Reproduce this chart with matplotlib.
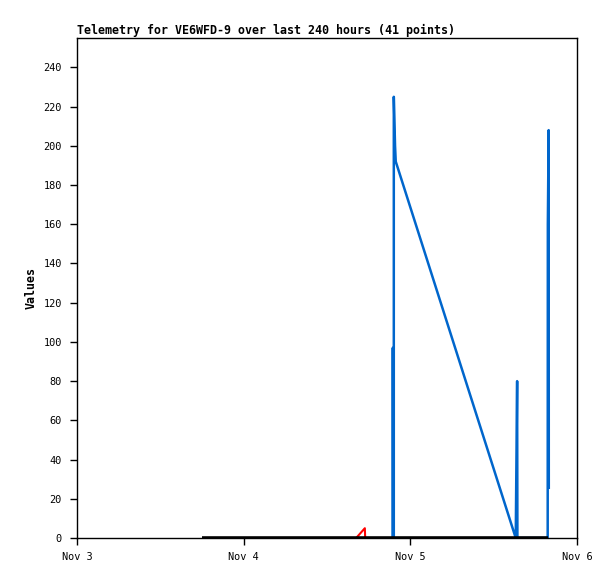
import datetime as dt
import matplotlib
matplotlib.use("Agg")
import matplotlib.pyplot as plt
import matplotlib.dates as mdates

# hours after Nov 3 00:00
start = dt.datetime(2023, 11, 3)

black_hours = [18.0, 30.0, 45.5, 63.2, 67.8]
black_vals = [0, 0, 0, 0, 0]

red_hours = [40.2, 41.45, 41.5]
red_vals = [0, 5, 0]

blue_hours = [45.48, 45.48, 45.5, 45.62, 45.62, 45.8, 45.9, 63.18, 63.38, 63.42, 67.78, 67.8, 67.92, 67.94]
blue_vals = [0, 97, 0, 0, 225, 200, 192, 0, 80, 0, 0, 160, 208, 25]

tick_days = [3, 4, 5, 6]
ytick_vals = list(range(0, 241, 20))

def to_dates(hours):
    return [start + dt.timedelta(hours=h) for h in hours]

mono = "DejaVu Sans Mono"
fig = plt.figure(figsize=(6.15, 5.79), dpi=100)
ax = fig.add_axes([0.1252, 0.0708, 0.813, 0.8636])

ax.plot(to_dates(blue_hours), blue_vals, color="#0066cc", lw=1.8,
        solid_capstyle="butt", zorder=2)
ax.plot(to_dates(red_hours), red_vals, color="#ff0000", lw=1.5, zorder=3)
ax.plot(to_dates(black_hours), black_vals, color="black", lw=2.6,
        solid_capstyle="butt", zorder=4)

ax.set_xlim(start, start + dt.timedelta(hours=72))
ax.set_ylim(0, 255)

ticks = [dt.datetime(2023, 11, d) for d in tick_days]
ax.set_xticks(ticks)
ax.set_xticklabels([f"{t:%b} {t.day}" for t in ticks], family=mono, fontsize=7.4)
ax.set_yticks(ytick_vals)
ax.set_yticklabels([str(v) for v in ytick_vals], family=mono, fontsize=7.4)
ax.tick_params(direction="out", length=5, width=1, pad=6)
ax.tick_params(axis="x", pad=5)

for s in ax.spines.values():
    s.set_linewidth(1)

ax.set_ylabel("Values", family=mono, fontweight="bold", fontsize=8.4, labelpad=4)
ax.set_title("Telemetry for VE6WFD-9 over last 240 hours (41 points)",
             family=mono, fontweight="bold", fontsize=8.4, loc="left", pad=3)

fig.savefig("out.png", dpi=100)
